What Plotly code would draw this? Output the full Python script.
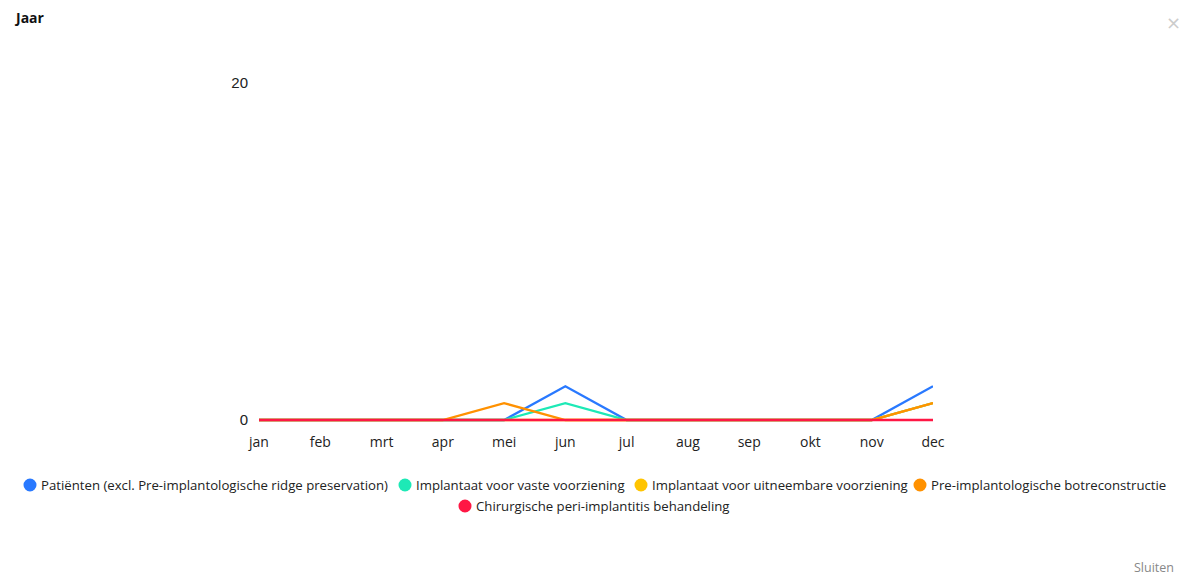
import plotly.graph_objects as go

months = ["jan", "feb", "mrt", "apr", "mei", "jun", "jul", "aug", "sep", "okt", "nov", "dec"]

series_names = [
    "Patiënten (excl. Pre-implantologische ridge preservation)",
    "Implantaat voor vaste voorziening",
    "Implantaat voor uitneembare voorziening",
    "Pre-implantologische botreconstructie",
    "Chirurgische peri-implantitis behandeling",
]
patienten = [0, 0, 0, 0, 0, 2, 0, 0, 0, 0, 0, 2]
implantaat_vast = [0, 0, 0, 0, 0, 1, 0, 0, 0, 0, 0, 1]
implantaat_uitneembaar = [0, 0, 0, 0, 0, 0, 0, 0, 0, 0, 0, 1]
botreconstructie = [0, 0, 0, 0, 1, 0, 0, 0, 0, 0, 0, 1]
peri_implantitis = [0, 0, 0, 0, 0, 0, 0, 0, 0, 0, 0, 0]

colors = ["#2979ff", "#1de9b6", "#ffc400", "#ff9100", "#ff1744"]
values = [patienten, implantaat_vast, implantaat_uitneembaar, botreconstructie, peri_implantitis]

FONT = "Open Sans"
W, H = 1192, 587
Y_MAX = 20
PX_PER_UNIT = (420 - 83) / Y_MAX
PAD = 4  # extra pixels below zero so the zero line is not clipped
L, R, T, B = 259, 259, 83, 167 - PAD
PW, PH = W - L - R, H - T - B
Y_MIN = -PAD / PX_PER_UNIT


def px(x):
    return (x - L) / PW


def py(y):
    return (H - B - y) / PH


fig = go.Figure()
for name, vals, col in zip(series_names, values, colors):
    fig.add_trace(go.Scatter(x=months, y=vals, mode="lines", name=name,
                             line=dict(color=col, width=2.3), showlegend=False,
                             hoverinfo="skip"))

# legend built as circles + labels, laid out in two centred rows like the reference
legend_rows = [0, 0, 0, 0, 1]
legend_dot_x = [30, 405, 641, 920, 465]
row_y = [485, 506]
shapes = []
annotations = []
for name, col, row, dx in zip(series_names, colors, legend_rows, legend_dot_x):
    cy = row_y[row]
    r = 6.5
    shapes.append(dict(type="circle", xref="paper", yref="paper",
                       x0=px(dx - r), x1=px(dx + r), y0=py(cy + r), y1=py(cy - r),
                       fillcolor=col, line=dict(width=0)))
    annotations.append(dict(text=name, xref="paper", yref="paper", x=px(dx + 9), y=py(cy),
                            xanchor="left", yanchor="middle", showarrow=False,
                            font=dict(family=FONT, size=13.2, color="#222")))

annotations += [
    dict(text="<b>Jaar</b>", xref="paper", yref="paper", x=px(12), y=py(18),
         xanchor="left", yanchor="middle", showarrow=False,
         font=dict(family=FONT, size=14, color="#111")),
    dict(text="×", xref="paper", yref="paper", x=px(1173), y=py(23),
         xanchor="center", yanchor="middle", showarrow=False,
         font=dict(family="DejaVu Sans", size=18, color="#cccccc")),
    dict(text="Sluiten", xref="paper", yref="paper", x=px(1176), y=py(567),
         xanchor="right", yanchor="middle", showarrow=False,
         font=dict(family=FONT, size=12.5, color="#888")),
]

fig.update_layout(
    width=W, height=H,
    paper_bgcolor="white", plot_bgcolor="white",
    margin=dict(l=L, r=R, t=T, b=B, autoexpand=False),
    font=dict(family=FONT, size=13, color="#222"),
    showlegend=False,
    xaxis=dict(type="category", range=[0, 11], showgrid=False, zeroline=False,
               showline=False, ticks="", tickfont=dict(family=FONT, size=14, color="#222"),
               ticklabelstandoff=8),
    yaxis=dict(range=[Y_MIN, Y_MAX], tickvals=[0, Y_MAX], showgrid=True, gridcolor="#efefef",
               zeroline=False, showline=False, ticks="",
               tickfont=dict(family="Liberation Sans", size=15, color="#222"),
               ticklabelstandoff=10),
    shapes=shapes,
    annotations=annotations,
)

fig.write_html("out.html", config={"displayModeBar": False},
               post_script="document.body.style.margin='0';document.body.style.overflow='hidden';")
